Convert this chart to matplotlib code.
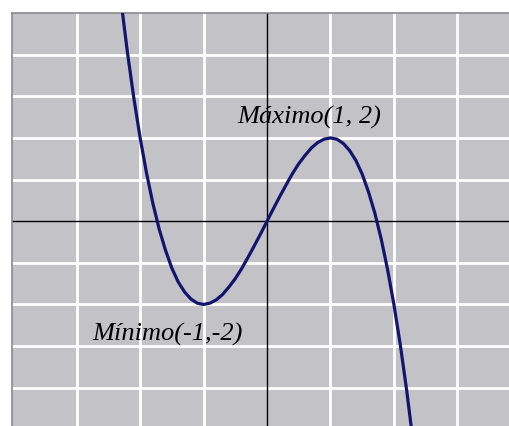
import matplotlib
matplotlib.use("Agg")
import matplotlib.pyplot as plt

# points
xs = [-2.3, -2.2, -2.1, -2.0, -1.9, -1.8, -1.7, -1.6, -1.5, -1.4, -1.3, -1.2,
      -1.1, -1.0, -0.9, -0.8, -0.7, -0.6, -0.5, -0.4, -0.3, -0.2, -0.1, 0.0,
      0.1, 0.2, 0.3, 0.4, 0.5, 0.6, 0.7, 0.8, 0.9, 1.0, 1.1, 1.2, 1.3, 1.4,
      1.5, 1.6, 1.7, 1.8, 1.9, 2.0, 2.1, 2.2, 2.3]
ys = [5.27, 4.05, 2.96, 2.00, 1.16, 0.43, -0.19, -0.70, -1.13, -1.46, -1.70, -1.87,
      -1.97, -2.00, -1.97, -1.89, -1.76, -1.58, -1.38, -1.14, -0.87, -0.59, -0.30, 0.00,
      0.30, 0.59, 0.87, 1.14, 1.38, 1.58, 1.76, 1.89, 1.97, 2.00, 1.97, 1.87, 1.70, 1.46,
      1.13, 0.70, 0.19, -0.43, -1.16, -2.00, -2.96, -4.05, -5.27]

labels = ["Máximo(1, 2)", "Mínimo(-1,-2)"]
label_pos = [(-0.47, 2.37), (-2.76, -2.85)]
grid_x = [-3, -2, -1, 1, 2, 3]
grid_y = [-4, -3, -2, -1, 1, 2, 3, 4]

fig = plt.figure(figsize=(5.1, 4.27), dpi=100)
ax = fig.add_axes([12/510, 0, 498/510, 413/427])
ax.set_facecolor("#c3c2c6")
ax.set_xlim(-4.02, 3.83)
ax.set_ylim(-4.92, 5.0)

for gx in grid_x:
    ax.axvline(gx, color="white", lw=2.0, zorder=1)
for gy in grid_y:
    ax.axhline(gy, color="white", lw=2.0, zorder=1)
ax.axhline(0, color="black", lw=1.0, zorder=2)
ax.axvline(0, color="black", lw=1.0, zorder=2)

ax.plot(xs, ys, color="#14146e", lw=2.3, zorder=3)

for txt, (tx, ty) in zip(labels, label_pos):
    ax.text(tx, ty, txt, fontsize=19, style="italic", family="Liberation Serif",
            ha="left", va="baseline", zorder=4)

ax.set_xticks([]); ax.set_yticks([])
for side in ["right", "bottom"]:
    ax.spines[side].set_visible(False)
for side in ["top", "left"]:
    ax.spines[side].set_color("#8a8a8a")
    ax.spines[side].set_linewidth(1.2)

plt.savefig("out.png", dpi=100)
